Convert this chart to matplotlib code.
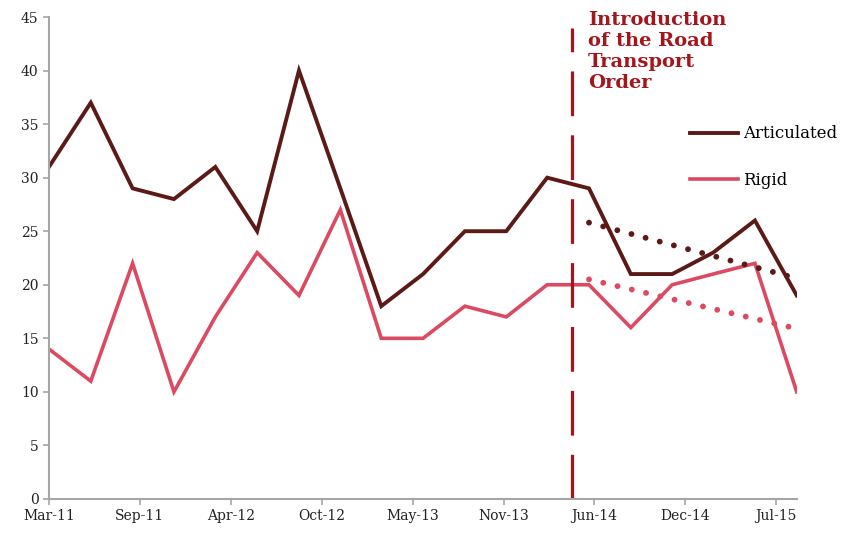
import numpy as np
import pandas as pd
import matplotlib
matplotlib.use("Agg")
import matplotlib.pyplot as plt
import matplotlib.dates as mdates

# Données trimestrielles, mars 2011 -> sept 2015
dates = pd.date_range("2011-03-01", periods=19, freq="3MS")
articulated = [31, 37, 29, 28, 31, 25, 40, 29, 18, 21, 25, 25, 30, 29, 21, 21, 23, 26, 19]
rigid = [14, 11, 22, 10, 17, 23, 19, 27, 15, 15, 18, 17, 20, 20, 16, 20, 21, 22, 10]

# Tendances (pointillés)
trend_dates = [pd.Timestamp("2014-06-01"), pd.Timestamp("2015-09-01")]
trend_art = [25.8, 20.6]
trend_rig = [20.5, 15.9]

order_date = pd.Timestamp("2014-04-25")
tick_dates = pd.date_range("2011-03-01", periods=9, freq="200D")

c_art = "#5c1a17"
c_rig = "#dc4a62"
c_red = "#a3161c"

plt.rcParams["font.family"] = ["DejaVu Serif"]

fig = plt.figure(figsize=(8.44, 5.4), dpi=100)
ax = fig.add_axes([0.058, 0.076, 0.886, 0.8925])

ax.plot(dates, articulated, color=c_art, lw=2.8, label="Articulated", solid_joinstyle="miter")
ax.plot(dates, rigid, color=c_rig, lw=2.6, label="Rigid", solid_joinstyle="miter")

ax.plot(trend_dates, trend_art, color=c_art, lw=4.2, ls=(0, (0.01, 2.5)), dash_capstyle="round")
ax.plot(trend_dates, trend_rig, color=c_rig, lw=4.2, ls=(0, (0.01, 2.5)), dash_capstyle="round")

ax.plot([order_date, order_date], [0, 44], color=c_red, lw=2.3, ls=(0, (14, 6)))

ax.text(0.7206, 1.012, "Introduction\nof the Road\nTransport\nOrder", transform=ax.transAxes,
        color=c_red, fontsize=14, fontweight="bold", va="top", ha="left", linespacing=1.2)

ax.set_xlim(dates[0], dates[-1])
ax.set_ylim(0, 45)
ax.set_yticks(np.arange(0, 46, 5))
ax.set_xticks(tick_dates)
ax.xaxis.set_major_formatter(mdates.DateFormatter("%b-%y"))

for s in ["top", "right"]:
    ax.spines[s].set_visible(False)
for s in ["left", "bottom"]:
    ax.spines[s].set_color("#a6a6a6")
    ax.spines[s].set_linewidth(1.5)
ax.tick_params(colors="#a6a6a6", labelcolor="#222222", length=4, width=1.2, labelsize=10)

leg = ax.legend(loc="upper left", bbox_to_anchor=(0.857, 0.775), frameon=False, fontsize=12,
                handlelength=2.9, handletextpad=0.3, labelspacing=1.75,
                borderpad=0, borderaxespad=0)

fig.savefig("out.png", dpi=100)
